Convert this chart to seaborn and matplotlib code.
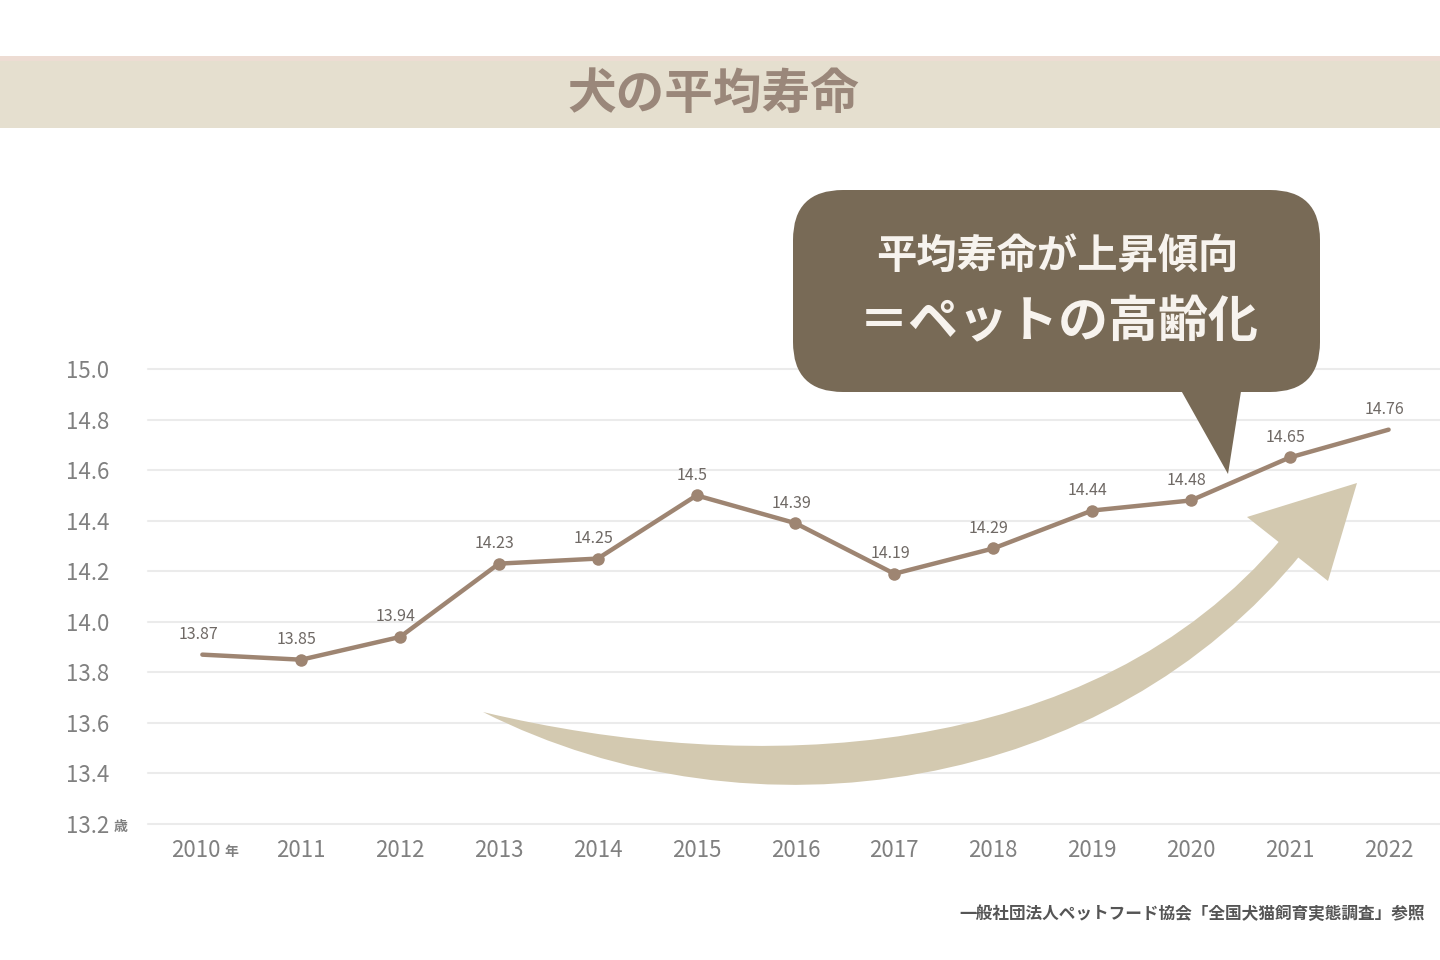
import matplotlib
matplotlib.use("Agg")
import matplotlib.pyplot as plt
import matplotlib.transforms as mtransforms
from matplotlib.patches import FancyBboxPatch, Polygon, PathPatch, Rectangle
from matplotlib.path import Path
import numpy as np
import seaborn as sns
import pandas as pd

# ---------------- data ----------------
years = [2010, 2011, 2012, 2013, 2014, 2015, 2016, 2017, 2018, 2019, 2020, 2021, 2022]
lifespan = [13.87, 13.85, 13.94, 14.23, 14.25, 14.50, 14.39, 14.19, 14.29, 14.44, 14.48, 14.65, 14.76]
value_labels = ["13.87", "13.85", "13.94", "14.23", "14.25", "14.5", "14.39", "14.19",
                "14.29", "14.44", "14.48", "14.65", "14.76"]
y_ticks = [13.2, 13.4, 13.6, 13.8, 14.0, 14.2, 14.4, 14.6, 14.8, 15.0]
y_tick_labels = ["13.2", "13.4", "13.6", "13.8", "14.0", "14.2", "14.4", "14.6", "14.8", "15.0"]
x_tick_labels = ["2010", "2011", "2012", "2013", "2014", "2015", "2016", "2017",
                 "2018", "2019", "2020", "2021", "2022"]
title = "犬の平均寿命"
callout_line1 = "平均寿命が上昇傾向"
callout_line2 = "＝ペットの高齢化"
source = "一般社団法人ペットフード協会「全国犬猫飼育実態調査」参照"

df = pd.DataFrame({"year": years, "life": lifespan})

# ---------------- style ----------------
sns.set_theme(style="white")
plt.rcParams["font.family"] = ["Noto Sans CJK JP", "DejaVu Sans"]

LINE = "#9e8572"
TICK = "#808080"
LABEL = "#6f6965"
GRID = "#ebebeb"
BAND = "#e5dfcf"
BAND_TOP = "#eddcd3"
BUBBLE = "#786a56"
ARROW = "#d3c9b0"

W, H = 1440, 960
fig = plt.figure(figsize=(14.4, 9.6), dpi=100)
fig.patch.set_facecolor("white")

# pixel transform (top-left origin)
px = mtransforms.Affine2D().scale(1 / W, -1 / H).translate(0, 1) + fig.transFigure

# axes placement
ax_left, ax_right = 148, 1440
ax_top, ax_bottom = 369, 824
ax = fig.add_axes([ax_left / W, 1 - ax_bottom / H, (ax_right - ax_left) / W, (ax_bottom - ax_top) / H])
ax.set_facecolor("none")

sns.lineplot(data=df, x="year", y="life", ax=ax, color=LINE, linewidth=3.2,
             marker="o", markersize=9, markeredgewidth=0, markevery=list(range(1, len(years) - 1)),
             zorder=5)

ax.set_xlim(2009.45, 2022.52)
ax.set_ylim(13.2, 15.0)
ax.set_yticks(y_ticks)
ax.set_yticklabels(y_tick_labels)
ax.set_xticks(years)
ax.set_xticklabels(x_tick_labels)
ax.tick_params(axis="y", length=0, pad=28, labelsize=16, labelcolor=TICK)
ax.tick_params(axis="x", length=0, pad=11, labelsize=16, labelcolor=TICK)
ax.set_xlabel("")
ax.set_ylabel("")
for s in ax.spines.values():
    s.set_visible(False)
ax.yaxis.grid(True, color=GRID, linewidth=1.5)
ax.xaxis.grid(False)
for gl in ax.yaxis.get_gridlines():
    gl.set_clip_on(False)

# shift first x label slightly left (it carries the 年 unit)
fig.canvas.draw()
xlab0 = ax.get_xticklabels()[0]
xlab0.set_transform(xlab0.get_transform() + mtransforms.ScaledTranslation(-7 / 100, 0, fig.dpi_scale_trans))
ylab0 = ax.get_yticklabels()[0]
ax.annotate("歳", xy=(1, 0.5), xycoords=ylab0, xytext=(3, 0), textcoords="offset points",
            ha="left", va="center", fontsize=10, color=TICK, fontweight="bold")
ax.annotate("年", xy=(1, 0.5), xycoords=xlab0, xytext=(3, -1), textcoords="offset points",
            ha="left", va="center", fontsize=10, color=TICK, fontweight="bold")

# value labels
for x, y, t in zip(years, lifespan, value_labels):
    ax.annotate(t, xy=(x, y), xytext=(-3, 14.5), textcoords="offset points",
                ha="center", va="center", fontsize=11.5, color=LABEL, zorder=6)

# ---------------- title band ----------------
fig.patches.append(Rectangle((0, 57), W, 71, transform=px, facecolor=BAND, edgecolor="none", zorder=0))
fig.patches.append(Rectangle((0, 56), W, 5, transform=px, facecolor=BAND_TOP, edgecolor="none", zorder=0))
fig.text(713 / W, 1 - 94 / H, title, ha="center", va="center", fontsize=35,
         color="#9a877a", fontweight="bold")


# ---------------- curved arrow (decoration) ----------------
def fit_bezier(pts):
    """Least-squares cubic Bezier through guide points with fixed ends."""
    pts = np.asarray(pts, float)
    d = np.r_[0, np.cumsum(np.hypot(*np.diff(pts, axis=0).T))]
    t = d / d[-1]
    b0, b1, b2, b3 = (1 - t) ** 3, 3 * (1 - t) ** 2 * t, 3 * (1 - t) * t ** 2, t ** 3
    A = np.c_[b1, b2]
    rhs = pts - np.outer(b0, pts[0]) - np.outer(b3, pts[-1])
    c, *_ = np.linalg.lstsq(A, rhs, rcond=None)
    return pts[0], c[0], c[1], pts[-1]


lower_guide = [(483, 712), (560, 744), (660, 767), (790, 786), (860, 786), (900, 777),
               (1000, 753), (1100, 717), (1167, 673), (1233, 620), (1302, 553)]
upper_guide = [(483, 712), (560, 730), (660, 741), (780, 746), (860, 741), (900, 734),
               (1000, 713), (1100, 680), (1167, 640), (1233, 592), (1282, 538)]
l0, l1, l2, l3 = fit_bezier(lower_guide)
u0, u1, u2, u3 = fit_bezier(upper_guide)
verts = [tuple(l0), tuple(l1), tuple(l2), tuple(l3), tuple(u3), tuple(u2), tuple(u1), tuple(u0), tuple(l0)]
codes = [Path.MOVETO, Path.CURVE4, Path.CURVE4, Path.CURVE4, Path.LINETO,
         Path.CURVE4, Path.CURVE4, Path.CURVE4, Path.CLOSEPOLY]
fig.patches.append(PathPatch(Path(verts, codes), transform=px, facecolor=ARROW, edgecolor="none", zorder=2))
fig.patches.append(Polygon([(1247, 517), (1357, 483), (1328, 581)], closed=True, transform=px,
                           facecolor=ARROW, edgecolor="none", zorder=2))

# ---------------- callout bubble ----------------
fig.patches.append(FancyBboxPatch((793 + 50, 190 + 50), 527 - 100, 202 - 100,
                                  boxstyle="round,pad=50", transform=px,
                                  facecolor=BUBBLE, edgecolor="none", zorder=3))
fig.patches.append(Polygon([(1178, 385), (1242, 385), (1228, 474)], closed=True, transform=px,
                           facecolor=BUBBLE, edgecolor="none", zorder=3))
fig.text(1057 / W, 1 - 256 / H, callout_line1, ha="center", va="center", fontsize=29,
         color="#f7f3ee", fontweight="bold", zorder=4)
fig.text(1059 / W, 1 - 323 / H, callout_line2, ha="center", va="center", fontsize=36,
         color="#f7f3ee", fontweight="bold", zorder=4)

# ---------------- source ----------------
fig.text(1425 / W, 1 - 914 / H, source, ha="right", va="center", fontsize=12,
         color="#555555", fontweight="bold")

fig.savefig("out.png", dpi=100)
